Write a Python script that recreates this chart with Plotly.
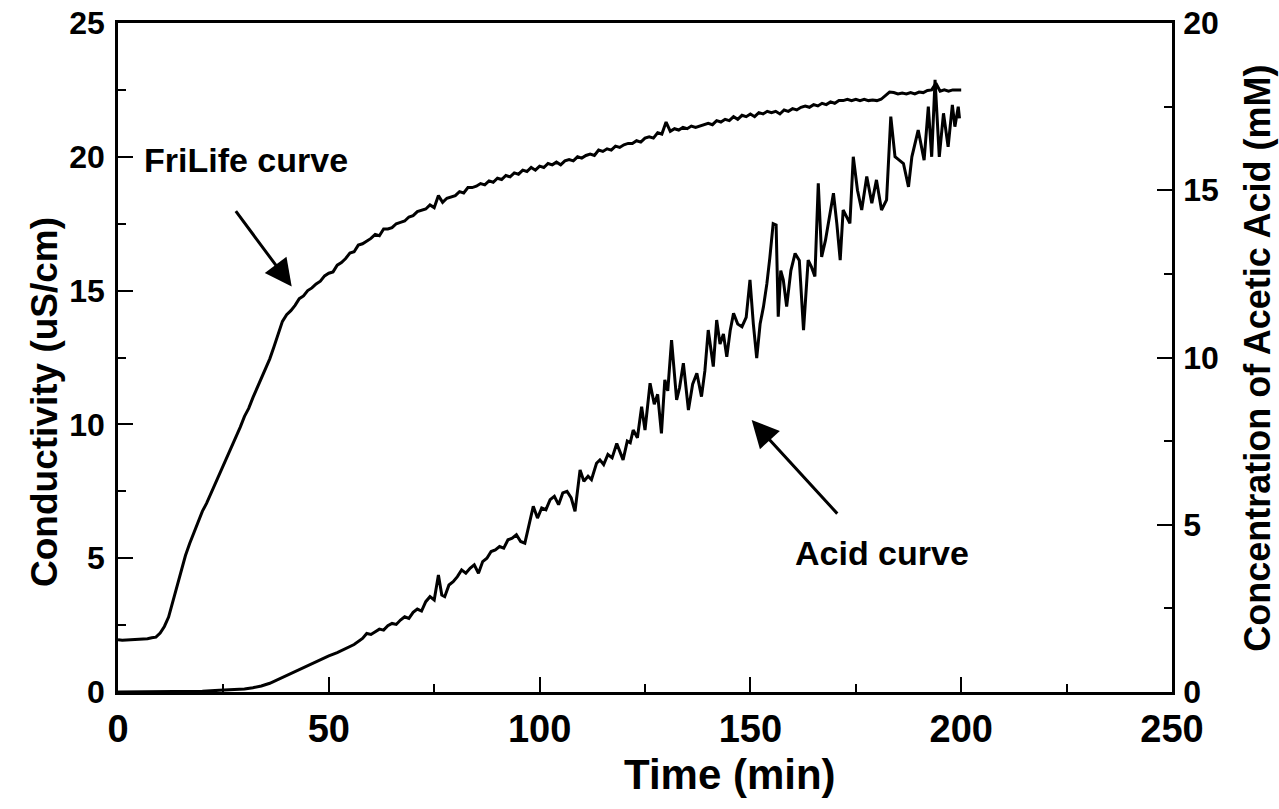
import plotly.graph_objects as go

# FriLife curve (conductivity, uS/cm) sampled every minute 0..200
fri_time = list(range(0, 201))
fri_cond = [
    1.95, 1.93, 1.94, 1.95, 1.97, 1.96, 1.97, 1.99, 2.03, 2.05,
    2.2, 2.45, 2.8, 3.4, 4.0, 4.6, 5.1, 5.55, 5.95, 6.35,
    6.75, 7.05, 7.4, 7.8, 8.1, 8.5, 8.85, 9.2, 9.55, 9.9,
    10.3, 10.6, 11.0, 11.35, 11.7, 12.1, 12.45, 12.9, 13.4, 13.85,
    14.1, 14.25, 14.45, 14.7, 14.8, 15.0, 15.1, 15.25, 15.35, 15.55,
    15.65, 15.7, 15.95, 16.05, 16.2, 16.4, 16.45, 16.7, 16.75, 16.85,
    16.95, 17.1, 17.05, 17.3, 17.3, 17.35, 17.5, 17.55, 17.6, 17.75,
    17.8, 17.95, 18.0, 18.05, 18.2, 18.1, 18.55, 18.3, 18.45, 18.5,
    18.55, 18.7, 18.65, 18.85, 18.85, 18.9, 19.0, 18.95, 19.1, 19.05,
    19.2, 19.15, 19.3, 19.25, 19.4, 19.35, 19.5, 19.45, 19.6, 19.5,
    19.65, 19.6, 19.75, 19.7, 19.8, 19.7, 19.85, 19.9, 19.85, 20.0,
    19.95, 20.05, 20.1, 20.05, 20.25, 20.2, 20.3, 20.25, 20.4, 20.35,
    20.45, 20.5, 20.5, 20.6, 20.55, 20.7, 20.75, 20.7, 20.9, 20.85,
    21.3, 20.95, 21.05, 21.0, 21.1, 21.05, 21.15, 21.1, 21.15, 21.2,
    21.25, 21.2, 21.35, 21.3, 21.4, 21.35, 21.5, 21.4, 21.55, 21.5,
    21.6, 21.5, 21.65, 21.6, 21.7, 21.65, 21.7, 21.6, 21.75, 21.7,
    21.8, 21.75, 21.85, 21.9, 21.85, 21.95, 21.9, 22.0, 21.95, 22.05,
    22.0, 22.1, 22.1, 22.15, 22.1, 22.15, 22.1, 22.15, 22.1, 22.12,
    22.1, 22.15, 22.3, 22.42, 22.4, 22.35, 22.38, 22.35, 22.4, 22.35,
    22.42, 22.4, 22.48, 22.5, 22.75, 22.45, 22.5, 22.45, 22.5, 22.5,
    22.5,
]

# Acid curve (concentration of acetic acid, mM)
acid_time = [
    0, 10, 20, 24, 28, 30, 32, 34, 36, 38, 40, 42, 44, 46, 48, 50, 52, 54, 56, 58,
    59, 60, 61, 62, 63, 64, 65, 66, 67, 68, 69, 70, 71, 72, 73, 74, 75, 76, 76.8, 77.5,
    78.5, 79.5, 80.5, 81.5, 82.5, 83.5, 84.5, 85.5, 86.5, 87.5, 88.5, 89.5, 90.5, 91.5,
    92.5, 93.5, 94.5, 95.5, 96.5, 97.5, 98.5, 99.5, 100.5, 101.5, 102.5, 103.5, 104.5,
    105.5, 106.5, 107.5, 108.4, 109.6, 110.5, 111.5, 112.3, 113.5, 114.3, 115.2, 116.2,
    117.2, 118.3, 119.0, 119.8, 120.8, 121.5, 122.2, 123.2, 124.2, 125.0, 126.2, 127.2,
    128.0, 128.9, 129.7, 130.4, 131.3, 132.5, 133.2, 134.1, 135.3, 136.3, 137.3, 138.4,
    139.2, 140.0, 141.2, 142.0, 142.8, 143.6, 144.4, 145.2, 146.0, 147.0, 148.0, 149.0,
    149.9, 150.7, 151.5, 152.3, 153.1, 153.9, 154.6, 155.4, 156.1, 156.6, 157.2, 157.8,
    158.6, 159.6, 160.6, 161.6, 162.6, 163.7, 164.5, 165.3, 166.1, 166.9, 167.8, 168.8,
    169.7, 170.5, 171.3, 172.0, 172.8, 173.6, 174.4, 175.4, 176.4, 177.6, 178.8, 179.9,
    181.1, 182.3, 183.3, 184.3, 185.3, 186.3, 187.5, 188.3, 189.8, 191.2, 192.2, 193.0,
    193.8, 194.8, 195.8, 196.9, 197.9, 198.5, 199.3, 199.6,
]
acid_conc = [
    0.0, 0.0, 0.02, 0.05, 0.07, 0.09, 0.13, 0.18, 0.26, 0.38, 0.5, 0.62, 0.73, 0.85, 0.97, 1.08, 1.18, 1.3, 1.42, 1.6,
    1.75, 1.72, 1.8, 1.88, 1.85, 1.98, 2.05, 2.02, 2.15, 2.25, 2.2, 2.38, 2.48, 2.42, 2.7, 2.85, 2.75, 3.5, 2.9, 2.85,
    3.2, 3.3, 3.45, 3.65, 3.55, 3.7, 3.8, 3.55, 3.9, 4.0, 4.2, 4.25, 4.35, 4.3,
    4.55, 4.6, 4.7, 4.5, 4.45, 5.0, 5.55, 5.2, 5.5, 5.45, 5.75, 5.85, 5.6,
    5.95, 6.0, 5.8, 5.4, 6.64, 6.3, 6.45, 6.35, 6.84, 6.94, 6.8, 7.1,
    7.0, 7.43, 7.2, 6.94, 7.5, 7.45, 7.83, 7.6, 8.53, 7.83, 9.23, 8.6,
    8.9, 7.73, 9.33, 9.0, 10.52, 8.73, 9.1, 9.83, 8.43, 9.2, 9.53, 8.83,
    9.6, 10.82, 9.73, 11.12, 10.4, 10.7, 10.02, 10.8, 11.32, 11.0, 10.92, 11.2,
    12.32, 11.0, 9.98, 11.0, 11.52, 12.2, 12.97, 14.0, 13.96, 11.22, 12.6, 12.32,
    11.52, 12.6, 13.11, 12.9, 10.82, 12.91, 12.7, 12.42, 15.21, 13.01, 13.5, 14.2,
    14.91, 14.0, 12.91, 14.41, 14.2, 14.01, 16.0, 15.0, 14.41, 15.41, 14.61, 15.31,
    14.41, 14.71, 17.2, 16.0, 15.9, 15.8, 15.1, 16.0, 16.8, 15.9, 17.5, 16.0,
    18.3, 16.0, 17.3, 16.3, 17.55, 16.9, 17.5, 17.15,
]

x_ticks = [0, 50, 100, 150, 200, 250]
y_ticks = [0, 5, 10, 15, 20, 25]
y2_ticks = [0, 5, 10, 15, 20]

FONT = "Liberation Sans, Arial, sans-serif"

fig = go.Figure()
fig.add_trace(go.Scatter(x=fri_time, y=fri_cond, mode="lines",
                         line=dict(color="black", width=3), name="FriLife curve",
                         yaxis="y"))
fig.add_trace(go.Scatter(x=acid_time, y=acid_conc, mode="lines",
                         line=dict(color="black", width=3), name="Acid curve",
                         yaxis="y2"))

axis_common = dict(showgrid=False, zeroline=False, showline=True, linecolor="black",
                   linewidth=2.5, ticks="inside", ticklen=15, tickwidth=2,
                   tickcolor="black", automargin=False, ticklabeloverflow="allow")

fig.update_layout(
    width=1279, height=809,
    margin=dict(l=118, r=107, t=23, b=117),
    paper_bgcolor="white", plot_bgcolor="white",
    showlegend=False,
    font=dict(family=FONT, color="black"),
    xaxis=dict(range=[0, 250], tickmode="array", tickvals=x_ticks,
               tickfont=dict(size=38, weight="bold"), mirror=True, ticklabelstandoff=2,
               minor=dict(ticks="inside", ticklen=8, tickwidth=2, tickcolor="black", dtick=25),
               **axis_common),
    yaxis=dict(range=[0, 25], tickmode="array", tickvals=y_ticks,
               tickfont=dict(size=32, weight="bold"), ticklabelstandoff=4,
               minor=dict(ticks="inside", ticklen=8, tickwidth=2, tickcolor="black", dtick=2.5),
               **axis_common),
    yaxis2=dict(range=[0, 20], tickmode="array", tickvals=y2_ticks, overlaying="y", side="right",
                tickfont=dict(size=32, weight="bold"), ticklabelstandoff=2,
                minor=dict(ticks="inside", ticklen=8, tickwidth=2, tickcolor="black", dtick=2.5),
                **axis_common),
    annotations=[
        # axis titles
        dict(x=0.5806, y=-0.124, xref="paper", yref="paper", text="Time (min)", showarrow=False,
             xanchor="center", yanchor="middle", font=dict(size=42, weight="bold")),
        dict(x=-0.0693, y=0.4335, xref="paper", yref="paper", text="Conductivity (uS/cm)",
             showarrow=False, textangle=-90, xanchor="center", yanchor="middle",
             font=dict(size=37, weight="bold")),
        dict(x=1.0816, y=0.498, xref="paper", yref="paper", text="Concentration of Acetic Acid (mM)",
             showarrow=False, textangle=-90, xanchor="center", yanchor="middle",
             font=dict(size=36, weight="bold")),
        # curve labels and arrows
        dict(x=41.2, y=15.15, xref="x", yref="y", ax=-57, ay=-77, text="",
             showarrow=True, arrowhead=2, arrowsize=1.8, arrowwidth=3, arrowcolor="black"),
        dict(x=30.4, y=19.88, xref="x", yref="y", text="FriLife curve", showarrow=False,
             font=dict(size=34, weight="bold")),
        dict(x=150.3, y=10.16, xref="x", yref="y", ax=87, ay=95, text="",
             showarrow=True, arrowhead=2, arrowsize=1.8, arrowwidth=3, arrowcolor="black"),
        dict(x=181.2, y=5.19, xref="x", yref="y", text="Acid curve", showarrow=False,
             font=dict(size=34, weight="bold")),
    ],
)

fig.write_html("out.html", config={"displayModeBar": False},
               post_script="document.body.style.margin='0px';document.body.style.overflow='hidden';")
